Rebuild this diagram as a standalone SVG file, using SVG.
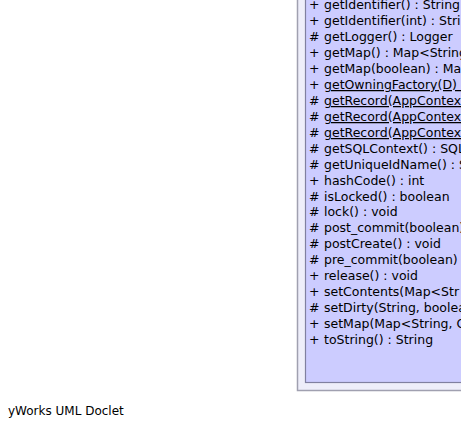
<svg xmlns="http://www.w3.org/2000/svg" width="461" height="429" viewBox="0 0 461 429">
<style>
text{font-family:"DejaVu Sans","Liberation Sans",sans-serif;font-size:12px;fill:#000}
.m text{font-size:12.5px}
.u{text-decoration:underline}
</style>
<rect width="461" height="429" fill="#ffffff"/>
<g id="class">
<rect x="297.5" y="-20" width="200" height="410.5" fill="#eeeefa" stroke="#a0a0b0" stroke-width="1.5"/>
<rect x="305.5" y="-12" width="190" height="394.5" fill="#ccccff" stroke="#8080a0" stroke-width="1.2"/>
<g class="m">
<text x="309" y="9">+</text><text x="324" y="9">getIdentifier() : String</text>
<text x="309" y="25">+</text><text x="324" y="25">getIdentifier(int) : String</text>
<text x="309" y="41">#</text><text x="324" y="41">getLogger() : Logger</text>
<text x="309" y="57">+</text><text x="324" y="57">getMap() : Map&lt;String</text>
<text x="309" y="73">+</text><text x="324" y="73">getMap(boolean) : Map</text>
<text x="309" y="89">+</text><text x="324" y="89" class="u">getOwningFactory(D) : </text>
<text x="309" y="105">#</text><text x="324" y="105" class="u">getRecord(AppContext</text>
<text x="309" y="121">#</text><text x="324" y="121" class="u">getRecord(AppContext</text>
<text x="309" y="137">#</text><text x="324" y="137" class="u">getRecord(AppContext</text>
<text x="309" y="153">#</text><text x="324" y="153">getSQLContext() : SQL</text>
<text x="309" y="169">#</text><text x="324" y="169">getUniqueIdName() : S</text>
<text x="309" y="185">+</text><text x="324" y="185">hashCode() : int</text>
<text x="309" y="201">#</text><text x="324" y="201">isLocked() : boolean</text>
<text x="309" y="216">#</text><text x="324" y="216">lock() : void</text>
<text x="309" y="232">#</text><text x="324" y="232">post_commit(boolean)</text>
<text x="309" y="248">#</text><text x="324" y="248">postCreate() : void</text>
<text x="309" y="264">#</text><text x="324" y="264">pre_commit(boolean)</text>
<text x="309" y="280">+</text><text x="324" y="280">release() : void</text>
<text x="309" y="296">+</text><text x="324" y="296">setContents(Map&lt;Str</text>
<text x="309" y="312">#</text><text x="324" y="312">setDirty(String, boolea</text>
<text x="309" y="328">+</text><text x="324" y="328">setMap(Map&lt;String, O</text>
<text x="309" y="344">+</text><text x="324" y="344">toString() : String</text>
</g>
</g>
<g id="connectors"/>
<text x="8" y="415">yWorks UML Doclet</text>
</svg>
